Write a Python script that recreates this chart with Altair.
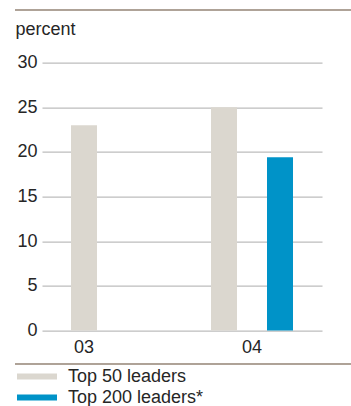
import altair as alt
import pandas as pd

years = ["03", "04"]
series = ["Top 50 leaders", "Top 200 leaders*"]
top50 = [23, 25]
top200 = [None, 19.4]
y_ticks = [0, 5, 10, 15, 20, 25, 30]
colors = ["#dbd7cf", "#0093c8"]

rows = []
for i, yr in enumerate(years):
    for s, vals in zip(series, [top50, top200]):
        if vals[i] is not None:
            rows.append({"year": yr, "series": s, "value": vals[i]})
df = pd.DataFrame(rows)

FONT = "Liberation Sans"
TXT = "#262626"
RULE = "#a39589"

bars = alt.Chart(df).mark_bar().encode(
    x=alt.X("year:N", sort=years,
            scale=alt.Scale(paddingInner=0.4143, paddingOuter=0.2071),
            axis=alt.Axis(title=None, labelAngle=0, ticks=False, tickSize=0, domain=False,
                          labelFont=FONT, labelFontSize=18, labelColor=TXT,
                          labelBaseline="alphabetic", labelPadding=21.7,
                          labelOffset=alt.condition("datum.value == '03'", alt.value(-28), alt.value(0)))),
    xOffset=alt.XOffset("series:N", sort=series,
                        scale=alt.Scale(domain=series, paddingInner=0.5357, paddingOuter=0)),
    y=alt.Y("value:Q", scale=alt.Scale(domain=[0, 30], nice=False),
            axis=alt.Axis(values=y_ticks, grid=True, ticks=False, tickSize=0, domain=False,
                          gridColor="#bdbdbd", gridWidth=1.2,
                          labelFont=FONT, labelFontSize=18, labelColor=TXT, labelPadding=5,
                          title="percent", titleAngle=0, titleAlign="left",
                          titleBaseline="alphabetic", titleX=-27, titleY=-28.6,
                          titleFont=FONT, titleFontSize=18, titleFontWeight="normal",
                          titleColor=TXT)),
    color=alt.Color("series:N", sort=series,
                    scale=alt.Scale(domain=series, range=colors),
                    legend=alt.Legend(title=None, orient="none", legendX=-14, legendY=304.9,
                                      direction="vertical", padding=0, rowPadding=3,
                                      symbolType="M-6.667,-1L6.667,-1L6.667,1L-6.667,1Z",
                                      symbolSize=36, symbolStrokeWidth=0, symbolOpacity=1,
                                      symbolOffset=0, labelOffset=22,
                                      labelFont=FONT, labelFontSize=18, labelColor=TXT)),
)

top_rule = alt.Chart(df).mark_rule(color=RULE, strokeWidth=1).encode(
    x=alt.value(-27), x2=alt.value(309), y=alt.value(-52.6))
bottom_rule = alt.Chart(df).mark_rule(color=RULE, strokeWidth=1).encode(
    x=alt.value(-27), x2=alt.value(309), y=alt.value(301.4))

chart = alt.layer(bars, top_rule, bottom_rule).properties(
    width=280, height=268,
    autosize=alt.AutoSizeParams(type="none"),
    padding={"left": 42, "top": 62.6, "right": 29, "bottom": 75.4},
    background="white",
).configure_view(stroke="transparent", strokeWidth=0)

chart.save("out.html", embed_options={"renderer": "svg", "actions": False})
